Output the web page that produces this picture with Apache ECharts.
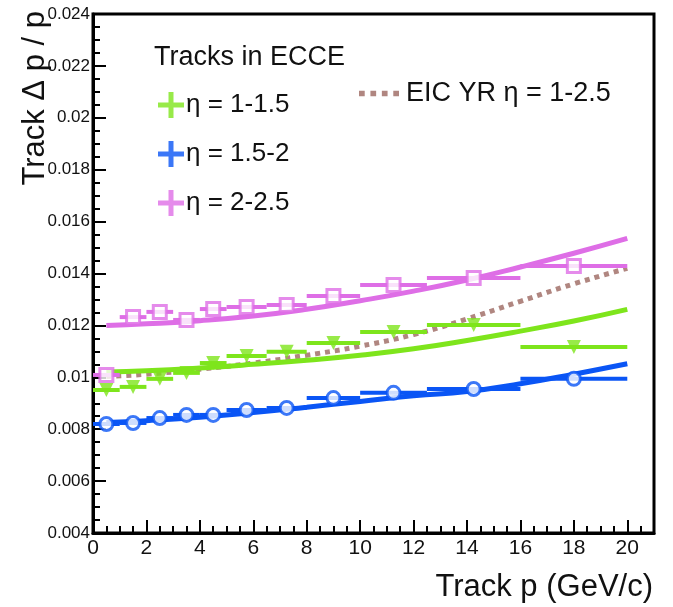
<!DOCTYPE html>
<html>
<head>
<meta charset="utf-8">
<script src="https://cdn.jsdelivr.net/npm/echarts@6/dist/echarts.min.js"></script>
<style>
html,body{margin:0;padding:0;background:#fff;}
#chart{width:673px;height:607px;}
</style>
</head>
<body>
<div id="chart"></div>
<script>
// Momentum bins (GeV/c)
const binLo = [0, 1, 2, 3, 4, 5, 6.5, 8, 10, 12.5, 16];
const binHi = [1, 2, 3, 4, 5, 6.5, 8, 10, 12.5, 16, 20];
// Measured resolution per bin
const eta1 = [0.00951, 0.00963, 0.00994, 0.01017, 0.01055, 0.01082, 0.01098, 0.01132, 0.01175, 0.01202, 0.01117];
const eta2 = [0.00820, 0.00824, 0.00843, 0.00855, 0.00855, 0.00874, 0.00882, 0.00920, 0.00940, 0.00955, 0.00994];
const eta3 = [0.01009, 0.01232, 0.01252, 0.01221, 0.01263, 0.01271, 0.01279, 0.01313, 0.01356, 0.01383, 0.01429];
// Fit curves and EIC YR requirement, sampled at these momenta
const curveP = [0.5, 2, 4, 6, 8, 10, 12, 14, 16, 18, 20];
const fit1 = [0.01020, 0.01025, 0.01036, 0.01050, 0.01066, 0.01085, 0.01110, 0.01142, 0.01178, 0.01217, 0.01262];
const fit2 = [0.00826, 0.00833, 0.00846, 0.00864, 0.00885, 0.00907, 0.00929, 0.00945, 0.00975, 0.01012, 0.01052];
const fit3 = [0.01200, 0.01206, 0.01218, 0.01236, 0.01262, 0.01295, 0.01332, 0.01375, 0.01425, 0.01478, 0.01535];
const eicYR = [0.01003, 0.01012, 0.01031, 0.01055, 0.01085, 0.01120, 0.01165, 0.01225, 0.01293, 0.01360, 0.01420];
// Labels
const names = ['η = 1-1.5', 'η = 1.5-2', 'η = 2-2.5'];
const yrName = 'EIC YR η = 1-2.5';
const legendTitle = 'Tracks in ECCE';
const xTitle = 'Track p (GeV/c)';
const yTitle = 'Track Δ p / p';

const GREEN = '#7ee51c', BLUE = '#0a55f5', PINK = '#de6ee6', BROWN = '#b08680';
const FONT = '"Liberation Sans", Arial, sans-serif';

function pts(vals, open) {
  return vals.map((v, i) => {
    const p = [(binLo[i] + binHi[i]) / 2, v];
    return open ? { value: p, itemStyle: { color: '#fff' } } : p;
  });
}
function bars(vals) { return vals.map((v, i) => [binLo[i], binHi[i], v]); }
function curve(vals) { return vals.map((v, i) => [curveP[i], v]); }

function errRender(color) {
  return function (params, api) {
    const a = api.coord([api.value(0), api.value(2)]);
    const b = api.coord([api.value(1), api.value(2)]);
    return { type: 'line', shape: { x1: a[0], y1: a[1], x2: b[0], y2: b[1] },
             style: { stroke: color, lineWidth: 4 } };
  };
}
function errSeries(vals, color) {
  return { type: 'custom', renderItem: errRender(color), data: bars(vals),
           encode: { x: [0, 1], y: 2 }, z: 3, silent: true };
}
function fitSeries(vals, color) {
  return { type: 'line', data: curve(vals), smooth: true, showSymbol: false, symbol: 'none',
           lineStyle: { color: color, width: 5 }, z: 2, silent: true };
}

const plus = 'path://M0,10.5h26v5h-26z M10.5,0h5v26h-5z';
const dots = 'path://M0,0h5v5h-5z M10,0h5v5h-5z M20,0h5v5h-5z M30,0h5v5h-5z';

const option = {
  animation: false,
  backgroundColor: '#fff',
  grid: { left: 93, right: 19, top: 14, bottom: 74, show: true, borderColor: '#000', borderWidth: 3 },
  title: { text: legendTitle, left: 149, top: 39,
           textStyle: { fontFamily: FONT, fontSize: 27, fontWeight: 'normal', color: '#111' } },
  legend: [
    { orient: 'vertical', left: 153, top: 87, itemWidth: 26, itemHeight: 26, itemGap: 23,
      textStyle: { fontFamily: FONT, fontSize: 26, color: '#111', padding: [0, 0, 0, -3] },
      data: [ { name: names[0], icon: plus, itemStyle: { borderWidth: 0 } },
              { name: names[1], icon: plus, itemStyle: { borderWidth: 0 } },
              { name: names[2], icon: plus, itemStyle: { borderWidth: 0 } } ] },
    { orient: 'vertical', left: 354, top: 75, itemWidth: 40, itemHeight: 26,
      textStyle: { fontFamily: FONT, fontSize: 27, color: '#111', padding: [0, 0, 0, 2] },
      data: [ { name: yrName, icon: dots, itemStyle: { color: BROWN } } ] }
  ],
  xAxis: {
    type: 'value', min: 0, max: 21, interval: 2,
    axisLine: { show: true, lineStyle: { color: '#000', width: 3 } },
    axisTick: { show: true, inside: true, length: 13, lineStyle: { color: '#000', width: 2 } },
    minorTick: { show: true, splitNumber: 4, length: 7, lineStyle: { color: '#000', width: 2 } },
    splitLine: { show: false },
    axisLabel: { fontFamily: FONT, fontSize: 21, color: '#111', margin: 5, showMaxLabel: false,
                 formatter: v => (v > 20 ? '' : String(v)) }
  },
  yAxis: {
    type: 'value', min: 0.004, max: 0.024, interval: 0.002,
    axisLine: { show: true, lineStyle: { color: '#000', width: 3 } },
    axisTick: { show: true, inside: true, length: 13, lineStyle: { color: '#000', width: 2 } },
    minorTick: { show: true, splitNumber: 4, length: 7, lineStyle: { color: '#000', width: 2 } },
    splitLine: { show: false },
    axisLabel: { fontFamily: FONT, fontSize: 17, color: '#111', margin: 3,
                 formatter: v => String(+v.toFixed(3)) }
  },
  graphic: [
    { type: 'text', x: 653, y: 587, style: { text: xTitle, font: '31px ' + FONT, fill: '#111',
      textAlign: 'right', textVerticalAlign: 'middle' } },
    { type: 'text', x: 35, y: 11, rotation: Math.PI / 2, style: { text: yTitle, font: '31px ' + FONT,
      fill: '#111', textAlign: 'right', textVerticalAlign: 'middle' } }
  ],
  series: [
    { name: yrName, type: 'line', data: curve(eicYR), smooth: true, showSymbol: false, symbol: 'none',
      itemStyle: { color: BROWN },
      lineStyle: { color: BROWN, width: 5, type: [5, 5] }, z: 2, silent: true },
    fitSeries(fit1, GREEN), fitSeries(fit2, BLUE), fitSeries(fit3, PINK),
    errSeries(eta1, GREEN), errSeries(eta2, BLUE), errSeries(eta3, PINK),
    { name: names[0], type: 'scatter', data: pts(eta1, false), symbol: 'triangle', symbolRotate: 180, symbolSize: 14,
      itemStyle: { color: GREEN }, z: 4, silent: true },
    { name: names[1], type: 'scatter', data: pts(eta2, true), symbol: 'circle', symbolSize: 13,
      itemStyle: { color: BLUE, borderColor: BLUE, borderWidth: 3 }, z: 4, silent: true },
    { name: names[2], type: 'scatter', data: pts(eta3, true), symbol: 'rect', symbolSize: 13,
      itemStyle: { color: PINK, borderColor: PINK, borderWidth: 3 }, z: 4, silent: true }
  ]
};

const chart = echarts.init(document.getElementById('chart'), null, { renderer: 'canvas' });
chart.setOption(option);
</script>
</body>
</html>
